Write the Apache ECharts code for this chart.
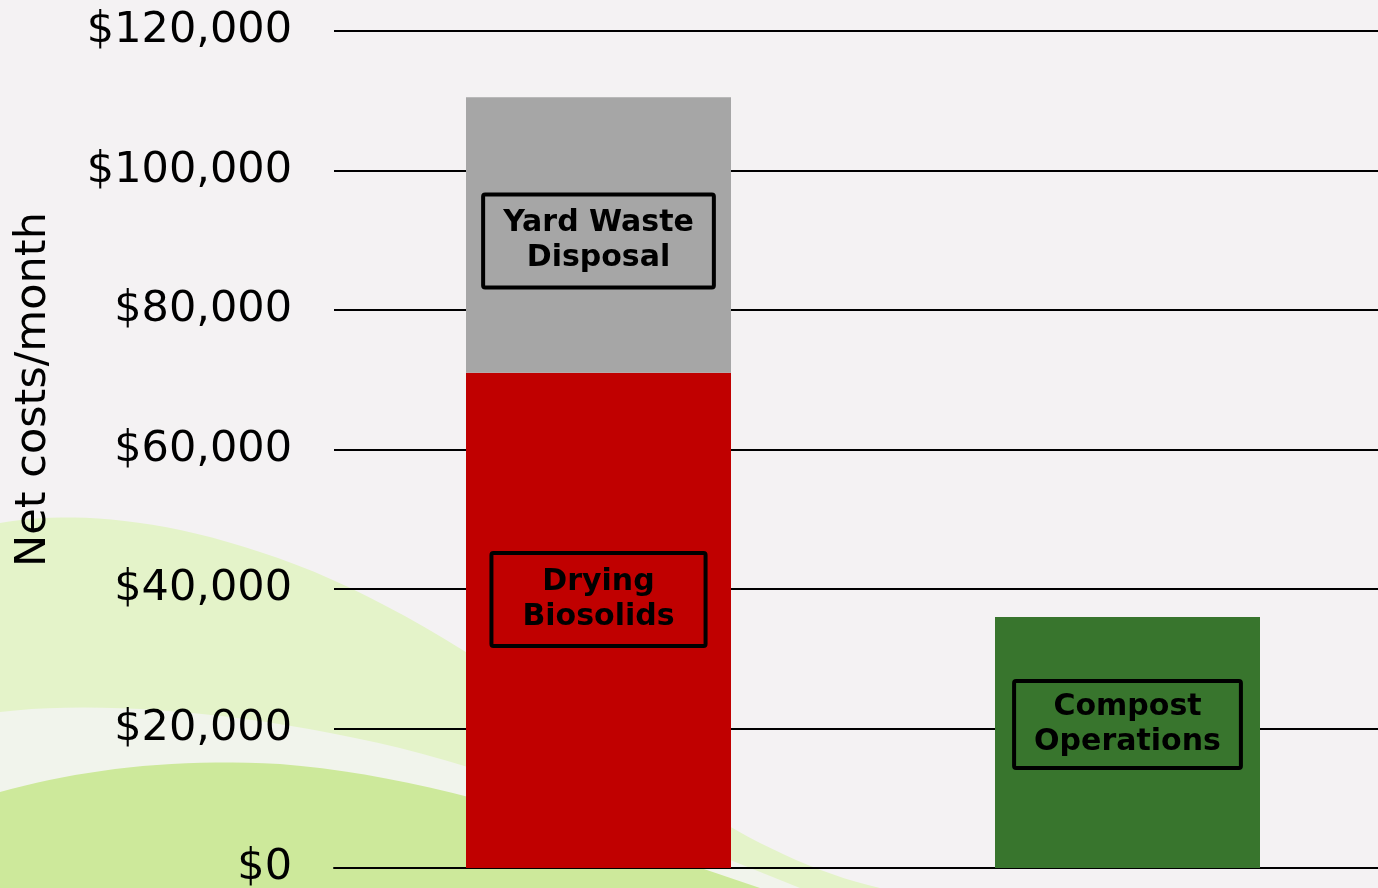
<!DOCTYPE html>
<html>
<head>
    <meta charset="utf-8">
    <title>Net costs per month</title>
    <script src="https://cdn.jsdelivr.net/npm/echarts@6/dist/echarts.min.js"></script>
    <style>
        html, body { margin: 0; padding: 0; background: #f4f2f3; }
    </style>
</head>
<body>
<div id="main" style="width: 1378px;height:888px;"></div>
<script type="text/javascript">
    // data
    var categories = ['Current', 'Compost'];
    var dryingBiosolids = [71000, '-'];
    var yardWasteDisposal = [39500, '-'];
    var compostOperations = ['-', 36000];
    var yTicks = {min: 0, max: 120000, interval: 20000};

    var myChart = echarts.init(document.getElementById('main'), null, {renderer: 'canvas'});

    // turn a chain of cubic curves into polygon points (background decoration only)
    function swoosh(start, curves) {
        var pts = [start];
        var p0 = start;
        curves.forEach(function (c) {
            for (var i = 1; i <= 20; i++) {
                var t = i / 20, u = 1 - t;
                pts.push([
                    u * u * u * p0[0] + 3 * u * u * t * c[0][0] + 3 * u * t * t * c[1][0] + t * t * t * c[2][0],
                    u * u * u * p0[1] + 3 * u * u * t * c[0][1] + 3 * u * t * t * c[1][1] + t * t * t * c[2][1]
                ]);
            }
            p0 = c[2];
        });
        pts.push([0, 888]);
        return pts;
    }

    function boxLabel(pad, offsetY) {
        return {
            show: true,
            position: 'inside',
            offset: [0, offsetY],
            color: '#000',
            fontFamily: 'DejaVu Sans',
            fontWeight: 'bold',
            fontSize: 30,
            lineHeight: 35,
            borderColor: '#000',
            borderWidth: 4,
            borderRadius: 2,
            padding: pad
        };
    }

    var option = {
        backgroundColor: '#f4f2f3',
        animation: false,
        // decorative green swooshes behind the plot
        graphic: [
            {
                type: 'polygon', z: -10, silent: true,
                shape: {points: swoosh([0, 523], [
                    [[60, 512], [150, 515], [260, 552]],
                    [[380, 590], [500, 670], [640, 770]],
                    [[720, 825], [800, 870], [880, 888]]
                ])},
                style: {fill: '#e4f3c9'}
            },
            {
                type: 'polygon', z: -9, silent: true,
                shape: {points: swoosh([0, 712], [
                    [[100, 700], [250, 712], [400, 748]],
                    [[560, 790], [680, 840], [800, 888]]
                ])},
                style: {fill: '#f1f4ec'}
            },
            {
                type: 'polygon', z: -8, silent: true,
                shape: {points: swoosh([0, 792], [
                    [[80, 770], [170, 758], [280, 764]],
                    [[420, 775], [560, 820], [760, 888]]
                ])},
                style: {fill: '#cde99b'}
            }
        ],
        grid: {
            left: 334,
            top: 31,
            width: 1058,
            bottom: 20,
            containLabel: false,
            outerBoundsMode: 'none'
        },
        xAxis: {
            type: 'category',
            data: categories,
            axisLine: {show: true, lineStyle: {color: '#000', width: 2}},
            axisTick: {show: false},
            axisLabel: {show: false}
        },
        yAxis: {
            type: 'value',
            min: yTicks.min,
            max: yTicks.max,
            interval: yTicks.interval,
            name: 'Net costs/month',
            nameLocation: 'middle',
            nameRotate: 90,
            nameGap: 279,
            nameTextStyle: {
                fontFamily: 'DejaVu Sans',
                fontSize: 43,
                color: '#000',
                padding: [0, 0, 0, 120]
            },
            axisLine: {show: false},
            axisTick: {show: false},
            axisLabel: {
                margin: 42,
                fontFamily: 'DejaVu Sans',
                fontSize: 43,
                color: '#000',
                formatter: function (value) {
                    return '$' + value.toLocaleString('en-US');
                }
            },
            splitLine: {show: true, lineStyle: {color: '#000', width: 2}}
        },
        series: [
            {
                name: 'Drying Biosolids',
                type: 'bar',
                stack: 'total',
                barWidth: 265,
                itemStyle: {color: '#c00000'},
                label: Object.assign(boxLabel([13, 31, 10, 31], -21), {
                    formatter: 'Drying\nBiosolids'
                }),
                data: dryingBiosolids
            },
            {
                name: 'Yard Waste Disposal',
                type: 'bar',
                stack: 'total',
                barWidth: 265,
                itemStyle: {color: '#a6a6a6'},
                label: Object.assign(boxLabel([13, 20, 10, 20], 6), {
                    formatter: 'Yard Waste\nDisposal'
                }),
                data: yardWasteDisposal
            },
            {
                name: 'Compost Operations',
                type: 'bar',
                stack: 'total',
                barWidth: 265,
                itemStyle: {color: '#38752d'},
                label: Object.assign(boxLabel([9, 20, 8, 20], -18), {
                    formatter: 'Compost\nOperations'
                }),
                data: compostOperations
            }
        ]
    };

    myChart.setOption(option);
</script>
</body>
</html>
